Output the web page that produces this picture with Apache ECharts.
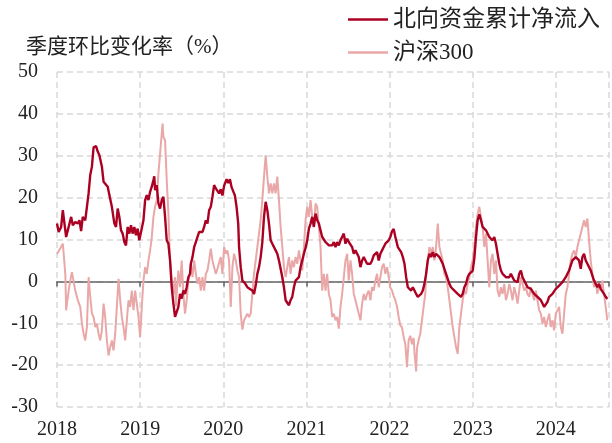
<!DOCTYPE html>
<html>
<head>
<meta charset="utf-8">
<script src="https://cdn.jsdelivr.net/npm/echarts@6/dist/echarts.min.js"></script>
<style>
  html, body { margin: 0; padding: 0; background: #fff; }
  #chart { width: 612px; height: 443px; }
</style>
</head>
<body>
<div id="chart"></div>
<script>
// 年份刻度
const yearTicks = [2018, 2019, 2020, 2021, 2022, 2023, 2024]
// 北向资金累计净流入 季度环比 (%), [年份, 数值]
const north = [
  [2018.00,13.8],[2018.02,11.8],[2018.05,13],[2018.07,17],[2018.09,13.8],[2018.11,10.6],[2018.14,13],[2018.17,15.4],[2018.19,13.4],[2018.22,14.2],
  [2018.25,13.8],[2018.27,14.6],[2018.29,12],[2018.31,15.4],[2018.34,14.6],[2018.36,17.8],[2018.38,21],[2018.40,25.4],[2018.42,27.4],[2018.44,32],
  [2018.47,32.3],[2018.49,31],[2018.51,30.1],[2018.53,30.5],[2018.54,27.4],[2018.56,23.8],[2018.58,24.2],[2018.61,22.6],[2018.63,20.6],[2018.65,20.2],
  [2018.66,17.8],[2018.69,13.8],[2018.71,13],[2018.73,17.4],[2018.75,15.4],[2018.77,12.2],[2018.79,11.4],[2018.81,9.4],[2018.83,8.6],[2018.85,13],
  [2018.87,11.4],[2018.89,13.4],[2018.91,11.4],[2018.93,13],[2018.95,11],[2018.97,12.6],[2018.99,9.8],[2019.01,9.4],
  [2019.04,14.6],[2019.06,19.4],[2019.08,20.6],[2019.10,19.4],[2019.12,21.4],[2019.14,22.6],[2019.16,24.2],[2019.17,25.1],[2019.18,21.8],[2019.20,23],
  [2019.22,18.6],[2019.24,17.4],[2019.26,19.4],[2019.28,20.2],[2019.30,15.4],[2019.32,9.8],[2019.34,9],[2019.36,5],[2019.38,-1.4],[2019.40,-5.3],
  [2019.42,-8.5],[2019.44,-8.9],[2019.46,-6.1],[2019.48,-3],[2019.50,-4.1],[2019.52,-2.2],[2019.54,-3],[2019.56,-1.4],[2019.58,1],[2019.60,1.8],
  [2019.61,4.2],[2019.63,5.8],[2019.65,8.2],[2019.67,9.4],[2019.69,10.6],[2019.71,11.8],[2019.73,12.2],[2019.75,11.8],[2019.77,13],[2019.79,14.6],
  [2019.81,13.8],[2019.83,17],[2019.85,17.8],[2019.87,20.2],[2019.89,23],[2019.91,22.2],[2019.93,22.6],[2019.95,21],[2019.97,22],[2019.99,20.5],
  [2020.01,22.8],[2020.04,24.4],[2020.06,23.5],[2020.08,24.4],[2020.10,22.5],[2020.12,21.5],[2020.14,20.5],
  [2020.16,17.8],[2020.18,13.8],[2020.19,8.2],[2020.21,3.4],[2020.23,0.2],[2020.26,-0.4],[2020.29,-1.4],[2020.32,-1.8],[2020.35,-2.2],[2020.37,-3],
  [2020.39,-1],[2020.41,1.8],[2020.43,3.4],[2020.45,5.8],[2020.47,9.4],[2020.49,15.4],[2020.51,19],[2020.53,17],[2020.55,13.8],[2020.57,9.8],
  [2020.59,9],[2020.61,8.6],[2020.63,7.4],[2020.65,6.6],[2020.67,5],[2020.69,3],[2020.71,1],[2020.73,-1.4],[2020.75,-4.5],[2020.77,-4.9],
  [2020.79,-5.7],[2020.81,-4.5],[2020.83,-3.7],[2020.85,-1.4],[2020.87,0.2],[2020.89,-0.2],[2020.91,1],[2020.93,3.4],[2020.95,5],[2020.97,6.6],
  [2020.99,8],[2021.01,9.8],[2021.03,12.6],[2021.05,13.8],[2021.07,15.4],[2021.09,13],[2021.11,16.2],[2021.13,14.6],[2021.15,13.8],[2021.17,13.4],
  [2021.19,10.6],[2021.21,10.2],[2021.23,9.4],[2021.25,9],[2021.27,8.6],[2021.29,8.2],[2021.31,8.6],[2021.33,9.4],[2021.35,8.2],[2021.37,9.4],
  [2021.39,8.6],[2021.41,9.8],[2021.43,10.2],[2021.45,11.4],[2021.47,9],[2021.49,10.2],[2021.51,9.4],[2021.53,9.8],[2021.55,8.2],[2021.57,6.6],
  [2021.59,7.4],[2021.61,7],[2021.63,5.8],[2021.65,3.4],[2021.67,5],[2021.69,5.8],[2021.71,5],[2021.73,4.2],[2021.75,4.6],[2021.77,4.2],
  [2021.79,5],[2021.81,6.2],[2021.83,5.8],[2021.85,7],[2021.87,5],[2021.89,6.6],[2021.91,7.4],[2021.93,8.2],[2021.95,9],[2021.97,9.4],
  [2021.99,9.8],[2022.01,10.6],[2022.03,12],[2022.05,12.5],[2022.07,10.6],[2022.10,8.2],[2022.12,8.2],[2022.14,7],[2022.16,5.8],[2022.18,4.2],
  [2022.20,1],[2022.22,-1.4],[2022.24,-1.8],[2022.26,-2.2],[2022.28,-1.4],[2022.30,-2.2],[2022.32,-3],[2022.34,-3.7],[2022.36,-4.1],[2022.38,-3],
  [2022.40,-2.2],[2022.42,-0.6],[2022.44,1.8],[2022.46,5],[2022.48,6.6],[2022.50,5.8],[2022.52,7],[2022.54,5.8],[2022.56,6.6],[2022.58,6.2],
  [2022.60,5.8],[2022.62,5.4],[2022.64,4.2],[2022.66,3],[2022.68,1.8],[2022.70,0.6],[2022.72,-0.6],[2022.74,-1.4],[2022.76,-1.8],[2022.78,-2.2],
  [2022.80,-1.8],[2022.82,-3],[2022.84,-3.3],[2022.86,-3.7],[2022.88,-3],[2022.90,-1.4],[2022.92,-0.6],[2022.94,1],[2022.96,1.8],[2022.98,2.2],
  [2023.00,2.5],[2023.02,5.5],[2023.04,10.5],[2023.06,14.6],[2023.08,16],[2023.10,14.6],[2023.12,13],[2023.14,12.6],[2023.16,12.2],[2023.18,11.8],
  [2023.20,10.6],[2023.22,11],[2023.24,9.8],[2023.26,10.6],[2023.28,9],[2023.30,6.6],[2023.32,4.2],[2023.34,2.6],[2023.36,1.8],[2023.38,2.2],
  [2023.40,1],[2023.42,0.6],[2023.44,1],[2023.46,1.8],[2023.48,1],[2023.50,0.2],[2023.52,0.6],[2023.54,-0.2],[2023.56,1.8],[2023.58,2.6],
  [2023.60,1],[2023.62,0.2],[2023.64,-0.6],[2023.66,-1.4],[2023.68,-1],[2023.70,-1.8],[2023.72,-2.2],[2023.74,-3],[2023.76,-3.3],[2023.78,-3.7],
  [2023.80,-4.1],[2023.82,-4.5],[2023.84,-5.3],[2023.86,-6.1],[2023.88,-6.5],[2023.90,-4.9],[2023.92,-3.7],[2023.94,-3.3],[2023.96,-3],[2023.98,-2.4],
  [2024.00,-1.8],[2024.02,-1.4],[2024.04,-1],[2024.06,-0.6],[2024.08,-0.2],[2024.10,0.4],[2024.12,1],[2024.14,1.8],[2024.16,2.6],[2024.18,3.8],
  [2024.20,5],[2024.22,4.6],[2024.24,5.8],[2024.26,5.4],[2024.28,5],[2024.30,3],[2024.32,5.8],[2024.34,6.6],[2024.36,5],[2024.38,4.2],
  [2024.40,4.6],[2024.42,2.6],[2024.44,1.4],[2024.46,0.2],[2024.48,-0.6],[2024.50,-1.4],[2024.52,-0.6],[2024.54,-1.8],[2024.56,-1.4],[2024.58,-3],
  [2024.60,-3.7],[2024.62,-4.2]
]
// 沪深300 季度环比 (%)
const hs300 = [
  [2018.00,6.6],[2018.02,7.2],[2018.04,7.4],[2018.07,9],[2018.10,1.8],[2018.11,-6.9],[2018.14,-2.2],[2018.16,0.2],[2018.18,2.2],[2018.20,1.8],
  [2018.22,-2.2],[2018.25,-4.5],[2018.28,-6.1],[2018.30,-10.1],[2018.32,-12.5],[2018.34,-14.1],[2018.36,-10.9],[2018.38,1],[2018.40,-3.7],[2018.42,-7.7],
  [2018.44,-8.5],[2018.46,-10.9],[2018.48,-10.1],[2018.50,-12.5],[2018.52,-14.1],[2018.54,-11.7],[2018.56,-5.3],[2018.58,-8.5],[2018.60,-14.1],[2018.62,-17.7],
  [2018.64,-15.7],[2018.66,-14.1],[2018.68,-16.5],[2018.70,-12.5],[2018.72,-6.1],[2018.74,0.6],[2018.76,-4.5],[2018.78,-8.5],[2018.80,-10.9],[2018.82,-14.1],
  [2018.84,-9.3],[2018.86,-4.5],[2018.88,-6.1],[2018.90,-2.2],[2018.92,-6.9],[2018.94,-2.2],[2018.96,-5.3],[2018.98,-8.5],[2019.00,-13.3],[2019.02,-6.1],
  [2019.04,0.2],[2019.06,3.4],[2019.08,1.8],[2019.10,5],[2019.12,7.4],[2019.14,10.5],[2019.16,15.4],[2019.18,17.8],[2019.20,19.4],[2019.22,25.8],
  [2019.24,30.5],[2019.26,35.3],[2019.27,37.7],[2019.28,34.5],[2019.30,33.7],[2019.31,28.9],[2019.32,24.2],[2019.34,16.2],[2019.35,10.6],[2019.36,5],
  [2019.38,0.2],[2019.40,-3],[2019.42,1],[2019.43,-6],[2019.44,-3],[2019.46,2.6],[2019.48,-1.4],[2019.50,5],[2019.52,-3],[2019.54,-7.7],
  [2019.56,-4.5],[2019.58,0.2],[2019.60,1.8],[2019.61,4.2],[2019.63,1],[2019.65,5],[2019.67,1.8],[2019.69,-0.6],[2019.71,1],[2019.73,-2.2],
  [2019.75,1],[2019.77,-2.2],[2019.79,1.8],[2019.81,2.6],[2019.83,5],[2019.85,7.8],[2019.87,5],[2019.89,3.4],[2019.91,1.8],[2019.93,3],
  [2019.95,3.4],[2019.97,5.8],[2019.99,1.8],[2020.01,8.2],[2020.03,6.6],[2020.05,7.4],[2020.07,5],[2020.09,-6.1],[2020.11,3.4],[2020.13,6.6],
  [2020.15,5],[2020.17,2.6],[2020.19,1],[2020.21,-7.7],[2020.23,-11.5],[2020.25,-9.3],[2020.27,-8.5],[2020.29,-7.7],[2020.31,-8.5],[2020.33,-7.7],
  [2020.35,-3],[2020.37,1.8],[2020.39,5],[2020.41,8.2],[2020.43,11.4],[2020.45,14.6],[2020.47,19.4],[2020.49,25],[2020.51,30.1],[2020.53,25],
  [2020.55,21],[2020.57,23.4],[2020.59,21],[2020.61,23.4],[2020.63,21],[2020.65,25],[2020.67,19.4],[2020.69,13],[2020.71,8.2],[2020.73,3.4],
  [2020.75,1],[2020.77,3.4],[2020.79,5.8],[2020.81,1.8],[2020.83,5],[2020.85,3.4],[2020.87,5.8],[2020.89,4.2],[2020.91,7.4],[2020.93,5],
  [2020.95,2.6],[2020.97,8.2],[2020.99,14.6],[2021.01,17.8],[2021.03,15.4],[2021.05,19.4],[2021.07,15.4],[2021.09,13],[2021.11,18.6],[2021.13,17.8],
  [2021.15,13],[2021.17,8.2],[2021.19,-2.2],[2021.21,1.8],[2021.23,-2.2],[2021.25,1.8],[2021.27,-3],[2021.29,-4.5],[2021.31,-8.5],[2021.33,-7.7],
  [2021.35,-9.3],[2021.37,-8.5],[2021.39,-11.3],[2021.41,-6.1],[2021.43,-3],[2021.45,1],[2021.47,5],[2021.49,6.6],[2021.51,0.2],[2021.53,5],
  [2021.55,1.8],[2021.57,-3],[2021.59,-4.5],[2021.61,-6.1],[2021.63,-7.7],[2021.65,-9.3],[2021.67,-5.3],[2021.69,-3],[2021.71,-4.5],[2021.73,-3],
  [2021.75,-2.2],[2021.77,-4.5],[2021.79,-1.4],[2021.81,-2.2],[2021.83,0.2],[2021.85,1.8],[2021.87,-1.4],[2021.89,1],[2021.91,3.4],[2021.93,4.2],
  [2021.95,1.8],[2021.97,3.4],[2021.99,1],[2022.01,-1.5],[2022.03,-2.2],[2022.05,-3.5],[2022.07,-4.5],[2022.09,-6],[2022.11,-8.5],[2022.13,-10.5],
  [2022.15,-11],[2022.17,-13.3],[2022.19,-15],[2022.21,-20.5],[2022.23,-14],[2022.25,-13],[2022.27,-15],[2022.29,-13.5],[2022.30,-17],[2022.32,-21.5],
  [2022.33,-16],[2022.35,-14],[2022.37,-12.5],[2022.39,-9.3],[2022.41,-6.1],[2022.43,-3],[2022.44,1.8],[2022.46,5],[2022.48,8.2],[2022.50,6.6],
  [2022.52,8.2],[2022.54,5],[2022.56,8.2],[2022.58,13.8],[2022.60,8.2],[2022.62,6.6],[2022.64,5],[2022.66,1.8],[2022.68,1],[2022.70,-1.4],
  [2022.72,-4.5],[2022.74,-7.7],[2022.76,-10.9],[2022.78,-13.3],[2022.80,-15.7],[2022.82,-17.3],[2022.84,-10.9],[2022.86,-7.7],[2022.88,-4.5],[2022.90,-2.2],
  [2022.92,-3],[2022.94,-0.6],[2022.96,1],[2022.98,3.4],[2023.00,5],[2023.02,8.2],[2023.04,13],[2023.06,16.2],[2023.08,17.8],[2023.10,15.4],
  [2023.12,13],[2023.14,8.2],[2023.16,11.4],[2023.18,5],[2023.20,-1.4],[2023.22,5],[2023.24,6.6],[2023.26,1.8],[2023.28,5],[2023.30,-2.2],
  [2023.32,-3.7],[2023.34,-1.4],[2023.36,-3],[2023.38,-0.6],[2023.40,-4.5],[2023.42,-3],[2023.44,-0.6],[2023.46,-2.2],[2023.48,-4.5],[2023.50,-1.4],
  [2023.52,-3],[2023.54,-5.3],[2023.56,-2.2],[2023.58,1],[2023.60,-0.6],[2023.62,-2.2],[2023.64,-1.4],[2023.66,-3],[2023.68,-3.7],[2023.70,-1.4],
  [2023.72,-3],[2023.74,-4.5],[2023.76,-2.2],[2023.78,-4.5],[2023.80,-6.9],[2023.82,-7.7],[2023.84,-10.1],[2023.86,-8.5],[2023.88,-10.9],[2023.90,-9.3],
  [2023.92,-7.7],[2023.94,-10.9],[2023.96,-9.3],[2023.98,-11.7],[2024.00,-7.7],[2024.02,-7.7],[2024.04,-6.1],[2024.06,-10.9],[2024.08,-12.5],[2024.10,-7.7],
  [2024.12,-3],[2024.14,-1.4],[2024.16,1.8],[2024.18,5],[2024.20,6.6],[2024.22,7.4],[2024.24,5.8],[2024.26,8.2],[2024.28,9.8],[2024.30,11.4],
  [2024.32,13],[2024.34,14.6],[2024.36,13],[2024.38,15],[2024.40,9.8],[2024.42,5],[2024.44,1.8],[2024.46,-1.4],[2024.48,0.2],[2024.50,-3],
  [2024.52,-0.6],[2024.54,-2.2],[2024.56,0.2],[2024.58,-3],[2024.60,-6.1],[2024.62,-9.3]
]

const serif = '"Liberation Serif", "Noto Sans CJK SC", serif'
const gridLine = { show: true, lineStyle: { color: '#d9d9d9', width: 1.5, type: [6, 4] } }

const myChart = echarts.init(document.getElementById('chart'))
const option = {
  animation: false,
  title: {
    text: '季度环比变化率（%）',
    left: 21,
    top: 32,
    textStyle: { fontFamily: serif, fontSize: 21, fontWeight: 'normal', color: '#222' },
  },
  legend: {
    data: ['北向资金累计净流入', '沪深300'],
    orient: 'vertical',
    left: 343,
    top: 3,
    itemWidth: 40,
    itemHeight: 2.5,
    itemGap: 10,
    icon: 'rect',
    textStyle: { fontFamily: serif, fontSize: 23, color: '#222' },
  },
  grid: { left: 57, right: 0, top: 72, bottom: 36, containLabel: false },
  xAxis: [
    {
      type: 'value',
      min: 2018,
      max: 2024.64,
      interval: 1,
      position: 'bottom',
      axisLine: { show: false, onZero: false },
      axisTick: { show: false },
      axisLabel: {
        margin: 13,
        fontFamily: serif,
        fontSize: 20,
        color: '#222',
        formatter: (v) => (yearTicks.includes(v) ? String(v) : ''),
      },
      splitLine: gridLine,
    },
    {
      type: 'value',
      min: 2018,
      max: 2024.64,
      interval: 1,
      position: 'bottom',
      axisLine: { show: true, onZero: true, lineStyle: { color: '#666', width: 1.5 } },
      axisTick: { show: true, length: 5, lineStyle: { color: '#666', width: 1.5 } },
      axisLabel: { show: false },
      splitLine: { show: false },
    },
  ],
  yAxis: {
    type: 'value',
    min: -30,
    max: 50,
    interval: 10,
    axisLine: { show: false },
    axisTick: { show: false },
    axisLabel: { margin: 19, fontFamily: serif, fontSize: 20, color: '#222' },
    splitLine: gridLine,
  },
  series: [
    {
      name: '沪深300',
      type: 'line',
      xAxisIndex: 0,
      data: hs300,
      showSymbol: false,
      color: '#eaa7a7',
      lineStyle: { width: 2 },
    },
    {
      name: '北向资金累计净流入',
      type: 'line',
      xAxisIndex: 0,
      data: north,
      showSymbol: false,
      color: '#ab0022',
      lineStyle: { width: 2.4 },
    },
  ],
}
myChart.setOption(option)
</script>
</body>
</html>
